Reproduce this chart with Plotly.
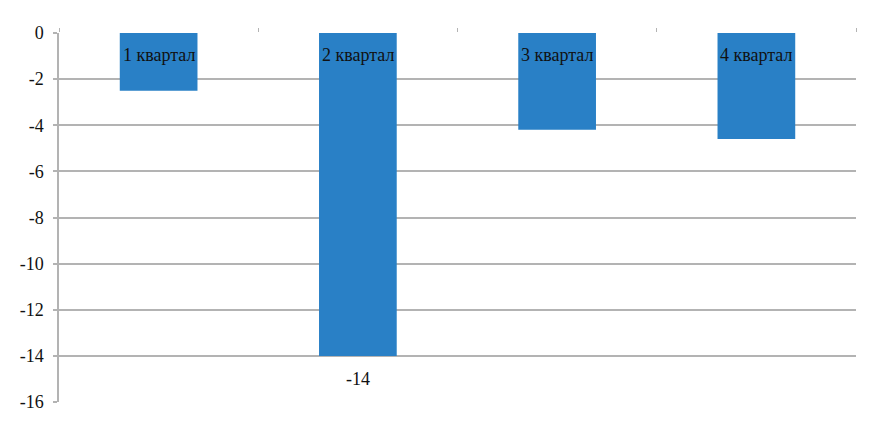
import plotly.graph_objects as go

categories = ["1 квартал", "2 квартал", "3 квартал", "4 квартал"]
values = [-2.5, -14, -4.2, -4.6]
tick_vals = [0, -2, -4, -6, -8, -10, -12, -14, -16]
tick_text = ["0", "-2", "-4", "-6", "-8", "-10", "-12", "-14", "-16"]

FONT = "Liberation Serif, Times New Roman, serif"
GRID = "#b3b3b3"
TXT = "#111111"

fig = go.Figure()
fig.add_trace(go.Bar(
    x=categories, y=values,
    marker=dict(color="#2980c6", line=dict(width=0)),
    width=0.39,
    hoverinfo="x+y",
))

for c in categories:
    fig.add_annotation(x=c, y=0, text=c, showarrow=False, yanchor="top", yshift=-10,
                       font=dict(family=FONT, size=18, color=TXT))

fig.add_annotation(x=categories[1], y=values[1], text="-14", showarrow=False,
                   yanchor="top", yshift=-11, font=dict(family=FONT, size=18, color=TXT))

fig.update_layout(
    width=883, height=432,
    margin=dict(l=51, r=35, t=25, b=38),
    paper_bgcolor="white", plot_bgcolor="white",
    showlegend=False,
    bargap=0.61,
    font=dict(family=FONT, size=18, color=TXT),
    xaxis=dict(
        side="top", showticklabels=False, ticks="outside", ticklen=4,
        tickcolor=GRID, tickson="boundaries", showgrid=False, showline=False,
        zeroline=False,
    ),
    yaxis=dict(
        range=[-16, 0], tickvals=tick_vals, ticktext=tick_text,
        showgrid=True, gridcolor=GRID, gridwidth=1.5,
        zeroline=False,
        showline=True, linecolor=GRID, linewidth=1.5,
        ticks="outside", ticklen=4, tickcolor=GRID, tickwidth=1.5,
        ticklabelstandoff=6,
        tickfont=dict(family=FONT, size=18, color=TXT),
    ),
)

fig.write_html("out.html")
